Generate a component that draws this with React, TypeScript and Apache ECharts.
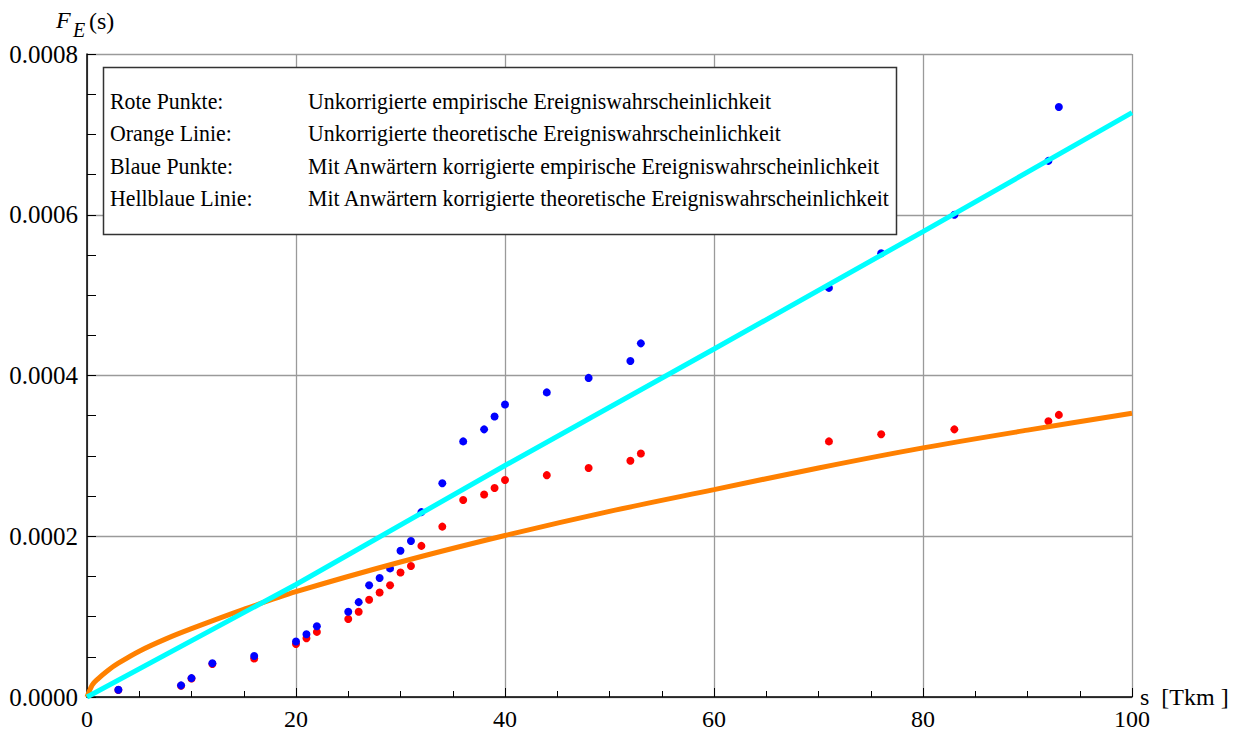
import React, { useEffect, useRef } from "react";
import * as echarts from "echarts";

// s in Tkm
const sEmp = [3, 9, 10, 12, 16, 20, 21, 22, 25, 26, 27, 28, 29, 30, 31, 32, 34, 36, 38, 39, 40, 44, 48, 52, 53, 71, 76, 83, 92, 93];
// Rote Punkte: unkorrigierte empirische Ereigniswahrscheinlichkeit
const redValues = [
  8.8e-6, 1.4e-5, 2.3e-5, 4.1e-5, 4.8e-5, 6.6e-5, 7.3e-5, 8.1e-5, 9.7e-5, 1.06e-4,
  1.21e-4, 1.3e-4, 1.39e-4, 1.55e-4, 1.63e-4, 1.88e-4, 2.12e-4, 2.45e-4, 2.52e-4, 2.6e-4,
  2.7e-4, 2.76e-4, 2.85e-4, 2.94e-4, 3.03e-4, 3.18e-4, 3.27e-4, 3.33e-4, 3.43e-4, 3.51e-4,
];
// Blaue Punkte: mit Anwärtern korrigierte empirische Ereigniswahrscheinlichkeit
const blueValues = [
  9.0e-6, 1.45e-5, 2.35e-5, 4.2e-5, 5.1e-5, 6.9e-5, 7.8e-5, 8.8e-5, 1.06e-4, 1.18e-4,
  1.39e-4, 1.48e-4, 1.6e-4, 1.82e-4, 1.94e-4, 2.3e-4, 2.66e-4, 3.18e-4, 3.33e-4, 3.49e-4,
  3.64e-4, 3.79e-4, 3.97e-4, 4.18e-4, 4.4e-4, 5.09e-4, 5.52e-4, 6.0e-4, 6.67e-4, 7.34e-4,
];
// Orange Linie: unkorrigierte theoretische Ereigniswahrscheinlichkeit
const sOrange = [0, 0.5, 1, 2, 3, 5, 7.5, 10, 15, 20, 30, 40, 50, 60, 70, 80, 90, 100];
const orangeValues = [
  0, 1.5e-5, 2.2e-5, 3.3e-5, 4.2e-5, 5.7e-5, 7.2e-5, 8.5e-5, 1.09e-4, 1.31e-4,
  1.68e-4, 2.01e-4, 2.31e-4, 2.58e-4, 2.85e-4, 3.1e-4, 3.32e-4, 3.53e-4,
];
// Hellblaue Linie: mit Anwärtern korrigierte theoretische Ereigniswahrscheinlichkeit
const sCyan = [0, 20, 40, 60, 80, 100];
const cyanValues = [0, 1.4e-4, 2.88e-4, 4.33e-4, 5.79e-4, 7.27e-4];

const legendRows: [string, string][] = [
  ["Rote Punkte:", "Unkorrigierte empirische Ereigniswahrscheinlichkeit"],
  ["Orange Linie:", "Unkorrigierte theoretische Ereigniswahrscheinlichkeit"],
  ["Blaue Punkte:", "Mit Anwärtern korrigierte empirische Ereigniswahrscheinlichkeit"],
  ["Hellblaue Linie:", "Mit Anwärtern korrigierte theoretische Ereigniswahrscheinlichkeit"],
];

const FONT = "'Liberation Serif', 'Times New Roman', serif";

const pairs = (xs: number[], ys: number[]) => xs.map((x, i) => [x, ys[i]]);

export default function App() {
  const ref = useRef<HTMLDivElement>(null);

  useEffect(() => {
    if (!ref.current) return;
    const chart = echarts.init(ref.current, undefined, { renderer: "svg" });

    const legendTexts: any[] = [];
    legendRows.forEach((row, i) => {
      const y = 101 + i * 32.4;
      legendTexts.push({
        type: "text",
        x: 110,
        y,
        scaleX: 0.91,
        style: { text: row[0], font: `24px ${FONT}`, fill: "#000", verticalAlign: "middle" },
      });
      legendTexts.push({
        type: "text",
        x: 308,
        y,
        scaleX: 0.91,
        style: { text: row[1], font: `24px ${FONT}`, fill: "#000", verticalAlign: "middle" },
      });
    });

    const axisColor = "#000";
    const gridColor = "#9a9a9a";

    chart.setOption({
      animation: false,
      backgroundColor: "#fff",
      grid: { left: 87, right: 110, top: 54, bottom: 31, containLabel: false },
      xAxis: {
        type: "value",
        min: 0,
        max: 100,
        interval: 20,
        axisLine: { show: true, onZero: false, lineStyle: { color: axisColor, width: 1.5 } },
        axisTick: { show: true, inside: true, length: 9, lineStyle: { color: axisColor, width: 1 } },
        minorTick: { show: true, splitNumber: 4, length: 6, lineStyle: { color: axisColor, width: 1 } },
        axisLabel: { color: "#000", fontFamily: FONT, fontSize: 24, margin: 10 },
        splitLine: { show: true, lineStyle: { color: gridColor, width: 1.3 } },
      },
      yAxis: {
        type: "value",
        min: 0,
        max: 0.0008,
        interval: 0.0002,
        axisLine: { show: true, onZero: false, lineStyle: { color: axisColor, width: 1.5 } },
        axisTick: { show: true, inside: true, length: 9, lineStyle: { color: axisColor, width: 1 } },
        minorTick: { show: true, splitNumber: 4, length: 9, lineStyle: { color: axisColor, width: 1 } },
        axisLabel: {
          color: "#000",
          fontFamily: FONT,
          fontSize: 25,
          margin: 9,
          formatter: (v: number) => v.toFixed(4),
        },
        splitLine: { show: true, lineStyle: { color: gridColor, width: 1.3 } },
      },
      series: [
        {
          name: "Rote Punkte",
          type: "scatter",
          data: pairs(sEmp, redValues),
          symbol: "circle",
          symbolSize: 8,
          itemStyle: { color: "#ff0000", opacity: 1 },
          z: 2,
        },
        {
          name: "Blaue Punkte",
          type: "scatter",
          data: pairs(sEmp, blueValues),
          symbol: "circle",
          symbolSize: 8,
          itemStyle: { color: "#0000ff", opacity: 1 },
          z: 3,
        },
        {
          name: "Orange Linie",
          type: "line",
          data: pairs(sOrange, orangeValues),
          smooth: 0.3,
          showSymbol: false,
          lineStyle: { color: "#ff8000", width: 5 },
          z: 4,
        },
        {
          name: "Hellblaue Linie",
          type: "line",
          data: pairs(sCyan, cyanValues),
          smooth: false,
          showSymbol: false,
          lineStyle: { color: "#00ffff", width: 5 },
          z: 5,
        },
      ],
      graphic: [
        {
          type: "rect",
          shape: { x: 103.5, y: 67.5, width: 793, height: 167 },
          style: { fill: "#fff", stroke: "#333", lineWidth: 1.5 },
          z: 100,
        },
        ...legendTexts.map((t) => ({ ...t, z: 101 })),
        {
          type: "text",
          x: 56,
          y: 20,
          style: { text: "F", font: `italic 24px ${FONT}`, fill: "#000", verticalAlign: "middle" },
        },
        {
          type: "text",
          x: 73,
          y: 30,
          style: { text: "E", font: `italic 20px ${FONT}`, fill: "#000", verticalAlign: "middle" },
        },
        {
          type: "text",
          x: 89,
          y: 21,
          style: { text: "(s)", font: `24px ${FONT}`, fill: "#000", verticalAlign: "middle" },
        },
        {
          type: "text",
          x: 1140,
          y: 697,
          style: { text: "s  [Tkm ]", font: `24px ${FONT}`, fill: "#000", verticalAlign: "middle" },
        },
      ],
    });

    return () => chart.dispose();
  }, []);

  return (
    <div
      ref={ref}
      style={{ position: "fixed", left: 0, top: 0, width: 1242, height: 731, background: "#fff" }}
    />
  );
}
